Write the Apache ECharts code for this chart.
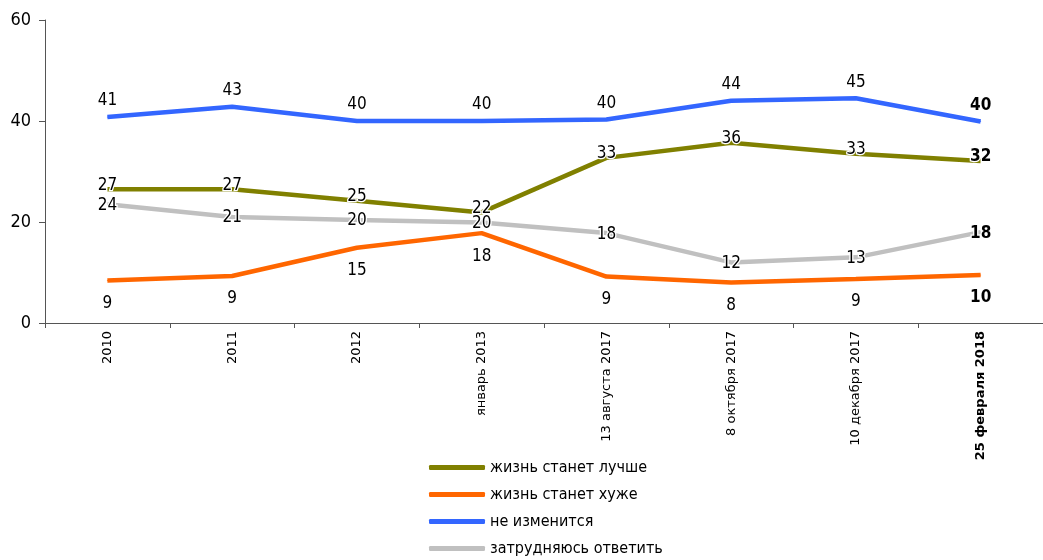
<!DOCTYPE html>
<html>
<head>
<meta charset="utf-8">
<script src="https://cdn.jsdelivr.net/npm/echarts@6/dist/echarts.min.js"></script>
<style>
  html, body { margin: 0; padding: 0; background: #fff; }
  #chart { width: 1043px; height: 560px; }
</style>
</head>
<body>
<div id="chart"></div>
<script>
// категории
const categories = ['2010', '2011', '2012', 'январь 2013', '13 августа 2017', '8 октября 2017', '10 декабря 2017', '25 февраля 2018'];
const seriesNames = ['жизнь станет лучше', 'жизнь станет хуже', 'не изменится', 'затрудняюсь ответить'];

// значения (положение линий) и подписи
const better = [26.5, 26.5, 24.2, 21.9, 32.7, 35.7, 33.5, 32.1];
const betterLabels = [27, 27, 25, 22, 33, 36, 33, 32];
const worse = [8.4, 9.3, 14.9, 17.8, 9.2, 8.0, 8.7, 9.5];
const worseLabels = [9, 9, 15, 18, 9, 8, 9, 10];
const same = [40.8, 42.8, 40.0, 40.0, 40.3, 44.0, 44.5, 39.9];
const sameLabels = [41, 43, 40, 40, 40, 44, 45, 40];
const hard = [23.5, 21.0, 20.4, 19.9, 17.8, 12.0, 13.0, 18.0];
const hardLabels = [24, 21, 20, 20, 18, 12, 13, 18];

const yTicks = [0, 20, 40, 60];

const labelFont = '"Liberation Sans Narrow", "DejaVu Sans Condensed", sans-serif';

const chart = echarts.init(document.getElementById('chart'));

// собрать серию
const makeSeries = (name, values, labels, color, labelOpt) => {
  const last = values.length - 1;
  return {
    name: name,
    type: 'line',
    symbol: 'circle',
    symbolSize: 1,
    showSymbol: true,
    lineStyle: { color: color, width: 4.5 },
    itemStyle: { color: color },
    data: values.map((v, i) => (i === last ? { value: v, label: { fontWeight: 'bold' } } : v)),
    label: Object.assign({
      show: true,
      color: '#000',
      fontFamily: labelFont,
      fontSize: 17,
      formatter: (p) => String(labels[p.dataIndex]),
    }, labelOpt),
    z: 2,
  };
};

chart.setOption({
  animation: false,
  grid: { left: 45, top: 20, width: 1006, height: 303 },
  legend: {
    orient: 'vertical',
    left: 424,
    top: 459,
    padding: [0, 5],
    itemWidth: 56,
    itemHeight: 5,
    itemGap: 10,
    icon: 'roundRect',
    textStyle: { fontFamily: labelFont, fontSize: 16, color: '#000', lineHeight: 17 },
    data: seriesNames,
  },
  xAxis: {
    type: 'category',
    data: categories,
    boundaryGap: true,
    axisLine: { lineStyle: { color: '#555', width: 1 } },
    axisTick: { show: true, length: 5, lineStyle: { color: '#555' } },
    axisLabel: {
      rotate: 90,
      interval: 0,
      margin: 8,
      color: '#000',
      fontFamily: 'DejaVu Sans, sans-serif',
      fontSize: 13,
      formatter: (v) => v === categories[categories.length - 1] ? '{b|' + v + '}' : v,
      rich: { b: { fontWeight: 'bold', fontFamily: 'DejaVu Sans, sans-serif', fontSize: 13 } },
    },
  },
  yAxis: {
    type: 'value',
    min: yTicks[0],
    max: yTicks[yTicks.length - 1],
    interval: 20,
    splitLine: { show: false },
    axisLine: { show: true, lineStyle: { color: '#555', width: 1 } },
    axisTick: { show: true, length: 6, lineStyle: { color: '#555' } },
    axisLabel: { color: '#000', fontFamily: labelFont, fontSize: 18, margin: 14 },
  },
  series: [
    makeSeries(seriesNames[0], better, betterLabels, '#808000', {
      position: 'inside', offset: [0, -4], textBorderColor: '#fff', textBorderWidth: 2.5,
    }),
    makeSeries(seriesNames[1], worse, worseLabels, '#FF6600', {
      position: 'bottom', distance: 14,
    }),
    makeSeries(seriesNames[2], same, sameLabels, '#3366FF', {
      position: 'top', distance: 7,
    }),
    makeSeries(seriesNames[3], hard, hardLabels, '#C0C0C0', {
      position: 'inside', offset: [0, 1], textBorderColor: '#fff', textBorderWidth: 2.5,
    }),
  ],
});
</script>
</body>
</html>
